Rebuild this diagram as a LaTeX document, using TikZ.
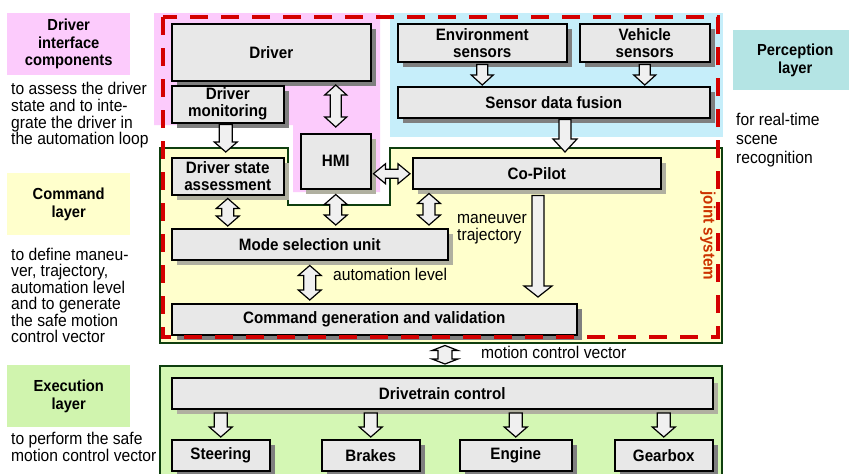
\documentclass[tikz,border=0pt]{standalone}
\usepackage{fontspec}
\setmainfont{Liberation Sans}[FakeStretch=0.92]
\usetikzlibrary{shadows,calc}
\definecolor{boxgray}{HTML}{E8E8E8}
\definecolor{arrowfill}{HTML}{F0F0F0}
\definecolor{pinkc}{HTML}{FCCBFC}
\definecolor{percc}{HTML}{C6EEFA}
\definecolor{perclegend}{HTML}{B4E4E4}
\definecolor{cmdc}{HTML}{FFFFCC}
\definecolor{execc}{HTML}{D4F7B4}
\definecolor{execlegend}{HTML}{D0F4AE}
\definecolor{dkgreen}{HTML}{0F3F0F}
\definecolor{jred}{HTML}{D40000}
\definecolor{jtext}{HTML}{CC3300}
\definecolor{shdark}{HTML}{7F7F7F}
\definecolor{shlight}{HTML}{B0B0A0}
\newcommand\bxfont{\fontsize{16.5}{17}\selectfont\bfseries}
\newcommand\lgfont{\fontsize{16}{17.5}\selectfont\bfseries}
\newcommand\txfont{\fontsize{17}{17}\selectfont}
\newcommand\vsingle[5]{\draw[barrow] let \p1=#1, \p2=#2 in
  (\x1-#3,\y1) -- (\x1-#3,\y2+#5) -- (\x1-#4,\y2+#5) -- (\x1,\y2) -- (\x1+#4,\y2+#5) -- (\x1+#3,\y2+#5) -- (\x1+#3,\y1) -- cycle;}
\newcommand\vdouble[5]{\draw[barrow] let \p1=#1, \p2=#2 in
  (\x1,\y1) -- (\x1+#4,\y1-#5) -- (\x1+#3,\y1-#5) -- (\x1+#3,\y2+#5) -- (\x1+#4,\y2+#5) -- (\x1,\y2) -- (\x1-#4,\y2+#5) -- (\x1-#3,\y2+#5) -- (\x1-#3,\y1-#5) -- (\x1-#4,\y1-#5) -- cycle;}
\newcommand\hdouble[5]{\draw[barrow] let \p1=#1, \p2=#2 in
  (\x1,\y1) -- (\x1+#5,\y1+#4) -- (\x1+#5,\y1+#3) -- (\x2-#5,\y1+#3) -- (\x2-#5,\y1+#4) -- (\x2,\y1) -- (\x2-#5,\y1-#4) -- (\x2-#5,\y1-#3) -- (\x1+#5,\y1-#3) -- (\x1+#5,\y1-#4) -- cycle;}
\begin{document}
\begin{tikzpicture}[x=1pt,y=-1pt,
  box/.style={draw=black, line width=1.5pt, fill=boxgray, inner sep=0pt, align=center, font=\bxfont, anchor=north west},
  dsh/.style={drop shadow={shadow xshift=5pt, shadow yshift=-5pt, fill=shdark, opacity=1, draw=none}},
  lsh/.style={drop shadow={shadow xshift=5pt, shadow yshift=-5pt, fill=shlight, opacity=1, draw=none}},
  barrow/.style={draw=black, line width=1.2pt, fill=arrowfill, line join=miter},
  legend/.style={inner sep=0pt, align=center, font=\lgfont, anchor=north west},
  lbl/.style={inner sep=0pt, font=\txfont, anchor=base west},
  region/.style={draw=dkgreen, line width=1.6pt},
  joint/.style={draw=jred, line width=4pt, dash pattern=on 18pt off 13pt}]
\useasboundingbox (0,0) rectangle (849,474);
\fill[white] (0,0) rectangle (849,474);
% regions
\fill[pinkc] (154,13) -- (380,13) -- (380,192) -- (293,192) -- (293,125) -- (154,125) -- cycle;
\fill[percc] (390,13) rectangle (723,137);
\filldraw[region, fill=cmdc] (160,148) -- (288,148) -- (288,205) -- (390,205) -- (390,148) -- (722,148) -- (722,343) -- (160,343) -- cycle;
\filldraw[region, fill=execc] (160,366) rectangle (722,490);
% boxes
\node[box, dsh, minimum width=199, minimum height=57] (driver) at (171,23) {Driver};
\node[box, dsh, minimum width=112, minimum height=37] (dm) at (171,85) {Driver\\monitoring};
\node[box, lsh, minimum width=70, minimum height=55] (hmi) at (300,133) {HMI};
\node[box, dsh, minimum width=169, minimum height=38] (env) at (397,23) {Environment\\sensors};
\node[box, dsh, minimum width=130, minimum height=38] (veh) at (579,23) {Vehicle\\sensors};
\node[box, dsh, minimum width=312, minimum height=31] (sdf) at (397,86) {Sensor data fusion};
\node[box, lsh, minimum width=112, minimum height=37] (dsa) at (171,157) {Driver state\\assessment};
\node[box, lsh, minimum width=248, minimum height=31] (cop) at (412,157) {Co-Pilot};
\node[box, lsh, minimum width=276, minimum height=31] (msu) at (171,228) {Mode selection unit};
\node[box, dsh, minimum width=405, minimum height=31] (cgv) at (171,303) {Command generation and validation};
\node[box, lsh, minimum width=541, minimum height=31] (dtc) at (171,377) {Drivetrain control};
\node[box, dsh, minimum width=98, minimum height=31] (steer) at (171,439) {Steering};
\node[box, dsh, minimum width=98, minimum height=31] (brakes) at (321,439) {Brakes};
\node[box, dsh, minimum width=112, minimum height=31] (engine) at (459,439) {Engine};
\node[box, dsh, minimum width=98, minimum height=31] (gearbox) at (614,439) {Gearbox};
% joint system border
\draw[joint] (163,17) rectangle (718,337);
\node[font=\bxfont, text=jtext, rotate=-90, inner sep=0pt] (js) at (708,236) {joint system};
% arrows
\vsingle{($(dm.south)+(-2,1)$)}{($(dsa.north)+(-2,-5)$)}{6.5pt}{11.5pt}{10pt}
\vdouble{($(hmi.north)+(0,-48)$)}{($(hmi.north)+(0,-6)$)}{5.5pt}{11pt}{10pt}
\vdouble{($(hmi.south)+(0,5)$)}{($(hmi.south |- msu.north)+(0,-3)$)}{6pt}{11.5pt}{10pt}
\vdouble{($(dsa.south)+(0,3)$)}{($(dsa.south |- msu.north)+(0,-2)$)}{6pt}{11.5pt}{10pt}
\vdouble{($(cop.south west)+(17,4)$)}{($(cop.south west |- msu.north)+(17,-3)$)}{6pt}{11.5pt}{10pt}
\hdouble{($(hmi.east)+(2,12.5)$)}{($(cop.west)+(-2,0)$)}{4.5pt}{10pt}{12pt}
\vdouble{($(msu.south)+(0,5)$)}{($(msu.south |- cgv.north)+(0,-3)$)}{6pt}{11.5pt}{10pt}
\vsingle{($(cop.south west)+(126,6)$)}{($(cop.south west |- cgv.north)+(126,-6)$)}{6pt}{14pt}{11pt}
\vsingle{($(env.south)+(0,2)$)}{($(env.south |- sdf.north)+(0,-1)$)}{5.5pt}{11pt}{10pt}
\vsingle{($(veh.south)+(0,2)$)}{($(veh.south |- sdf.north)+(0,-1)$)}{5.5pt}{11pt}{10pt}
\vsingle{($(sdf.south west)+(168,1)$)}{($(sdf.south west |- cop.north)+(168,-5)$)}{6pt}{12pt}{13pt}
\vdouble{($(cgv.south west)+(274,10)$)}{($(cgv.south west |- dtc.north)+(274,-13)$)}{7pt}{13pt}{5pt}
\vsingle{($(steer.north)+(0,-26)$)}{($(steer.north)+(0,-2)$)}{6.5pt}{11.5pt}{10pt}
\vsingle{($(brakes.north)+(0,-26)$)}{($(brakes.north)+(0,-2)$)}{6.5pt}{11.5pt}{10pt}
\vsingle{($(engine.north)+(0,-26)$)}{($(engine.north)+(0,-2)$)}{6.5pt}{11.5pt}{10pt}
\vsingle{($(gearbox.north)+(0,-26)$)}{($(gearbox.north)+(0,-2)$)}{6.5pt}{11.5pt}{10pt}
% connector labels
\node[lbl] (man1) at (457,223) {maneuver};
\node[lbl] (man2) at (457,240) {trajectory};
\node[lbl] (autl) at (333,280) {automation level};
\node[lbl] (mcv) at (481,358) {motion control vector};
% legend
\node[legend, fill=pinkc, minimum width=123, minimum height=62] (lg1) at (7,13) {Driver\\interface\\components};
\node[lbl] (d11) at (11,94) {to assess the driver};
\node[lbl] (d12) at (11,111) {state and to inte-};
\node[lbl] (d13) at (11,128) {grate the driver in};
\node[lbl] (d14) at (11,144.5) {the automation loop};
\node[legend, fill=cmdc, minimum width=123, minimum height=62] (lg2) at (7,173) {Command\\layer};
\node[lbl] (d21) at (11,260) {to define maneu-};
\node[lbl] (d22) at (11,276.5) {ver, trajectory,};
\node[lbl] (d23) at (11,293) {automation level};
\node[lbl] (d24) at (11,309.5) {and to generate};
\node[lbl] (d25) at (11,326) {the safe motion};
\node[lbl] (d26) at (11,342.5) {control vector};
\node[legend, fill=execlegend, minimum width=123, minimum height=62] (lg3) at (7,365) {Execution\\layer};
\node[lbl] (d31) at (11,444) {to perform the safe};
\node[lbl] (d32) at (11,461) {motion control vector};
\node[legend, fill=perclegend, minimum width=116, minimum height=60] (lg4) at (733,30) {\hspace*{8pt}Perception\\\hspace*{8pt}layer};
\node[lbl] (d41) at (736,125) {for real-time};
\node[lbl] (d42) at (736,144) {scene};
\node[lbl] (d43) at (736,163) {recognition};
\end{tikzpicture}
\end{document}
